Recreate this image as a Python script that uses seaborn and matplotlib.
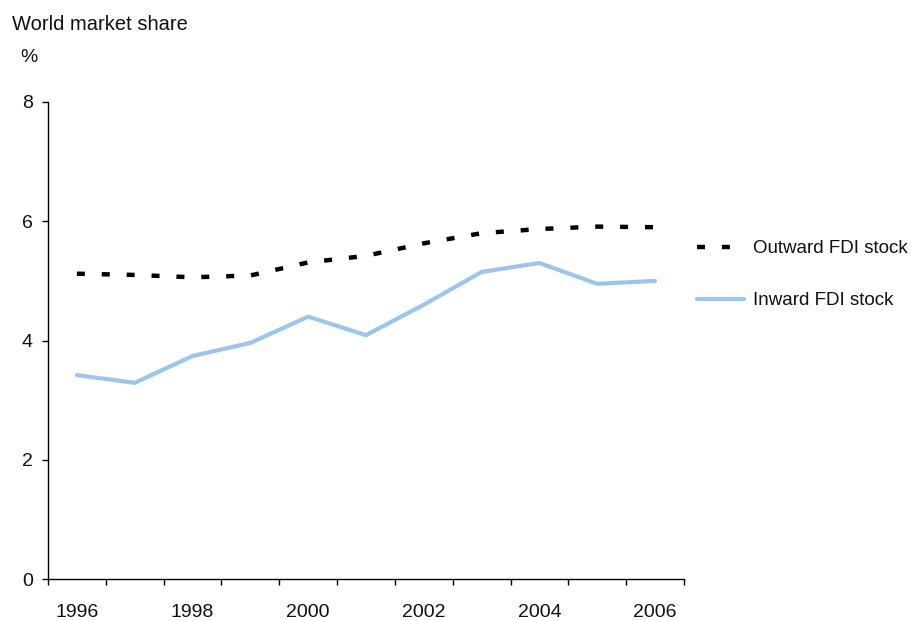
import numpy as np
import pandas as pd
import matplotlib
matplotlib.use("Agg")
import matplotlib.pyplot as plt
import seaborn as sns

# ------------------ DATA ------------------

years = [1996, 1997, 1998, 1999, 2000, 2001, 2002, 2003, 2004, 2005, 2006]
outward = [5.12, 5.10, 5.06, 5.09, 5.31, 5.42, 5.63, 5.80, 5.87, 5.91, 5.90]
inward = [3.42, 3.29, 3.74, 3.96, 4.40, 4.09, 4.60, 5.15, 5.30, 4.95, 5.00]
year_labels = [1996, 1998, 2000, 2002, 2004, 2006]
y_ticks = [0, 2, 4, 6, 8]

# ------------------ STYLE ------------------

sns.set_theme(style="white")
plt.rcParams["font.family"] = ["Liberation Sans", "DejaVu Sans"]
plt.rcParams["font.size"] = 14

BLUE = "#9dc4ea"
TEXT = "#111111"

W, H = 912, 621
fig = plt.figure(figsize=(W / 100, H / 100), dpi=100)
ax = fig.add_axes([48 / W, 1 - 579 / H, (684 - 48) / W, (579 - 102) / H])

df = pd.DataFrame({"year": years, "outward": outward, "inward": inward})

sns.lineplot(data=df, x="year", y="outward", ax=ax, color="black",
             linewidth=3.2, label="Outward FDI stock")
ax.lines[-1].set_dashes((1.8, 3.8))
sns.lineplot(data=df, x="year", y="inward", ax=ax, color=BLUE,
             linewidth=3.0, label="Inward FDI stock")

# ------------------ AXES ------------------

ax.set_xlim(years[0] - 0.5, years[-1] + 0.5)
ax.set_ylim(0, 8)
ax.set_xticks(np.arange(years[0] - 0.5, years[-1] + 1, 1.0))
ax.set_xticklabels([])
ax.set_xticks(year_labels, minor=True)
ax.set_xticklabels([str(y) for y in year_labels], minor=True)
ax.set_yticks(y_ticks)
ax.set_yticklabels([str(v) for v in y_ticks])

ax.tick_params(axis="x", which="major", direction="out", length=4.3, width=1,
               color="black", bottom=True)
ax.tick_params(axis="x", which="minor", length=0, pad=18, labelsize=14,
               labelcolor=TEXT, bottom=True)
ax.tick_params(axis="y", direction="out", length=4.3, width=1, color="black",
               left=True, pad=6.5, labelsize=14, labelcolor=TEXT)

for side in ["top", "right"]:
    ax.spines[side].set_visible(False)
for side in ["left", "bottom"]:
    ax.spines[side].set_color("black")
    ax.spines[side].set_linewidth(1.0)

ax.set_xlabel("")
ax.set_ylabel("")
ax.grid(False)

fig.text(12 / W, 1 - 24 / H, "World market share", fontsize=14.5,
         color=TEXT, va="center", ha="left")
fig.text(20 / W, 1 - 58 / H, "%", fontsize=14, color=TEXT,
         va="center", ha="left")

leg = ax.legend(loc="upper left", bbox_to_anchor=(697 / W, 1 - 240 / H),
                bbox_transform=fig.transFigure, frameon=False, fontsize=13.5,
                handlelength=2.5, handletextpad=0.48, labelspacing=1.86,
                borderpad=0, borderaxespad=0)
for t in leg.get_texts():
    t.set_color(TEXT)

plt.savefig("out.png", dpi=100)
plt.close()
